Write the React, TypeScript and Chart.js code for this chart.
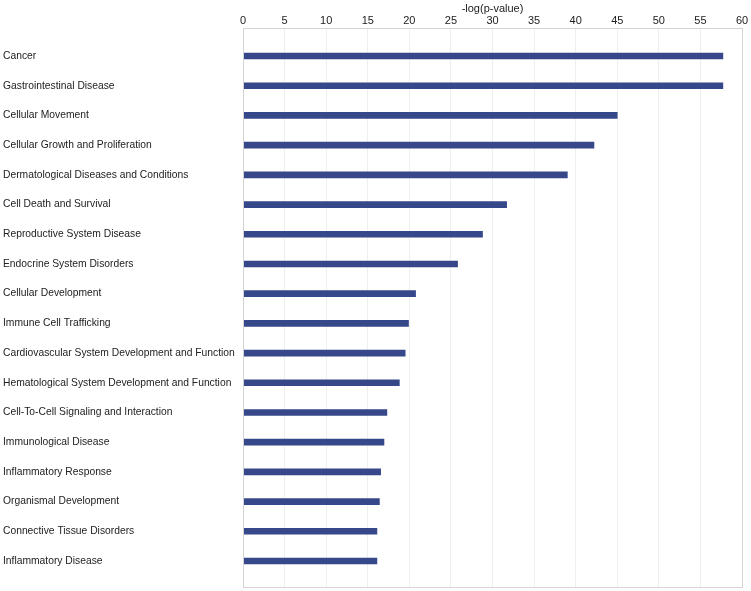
import React, { useEffect, useRef } from "react";
import { Chart, registerables } from "chart.js";

Chart.register(...registerables);

const categories = [
  "Cancer",
  "Gastrointestinal Disease",
  "Cellular Movement",
  "Cellular Growth and Proliferation",
  "Dermatological Diseases and Conditions",
  "Cell Death and Survival",
  "Reproductive System Disease",
  "Endocrine System Disorders",
  "Cellular Development",
  "Immune Cell Trafficking",
  "Cardiovascular System Development and Function",
  "Hematological System Development and Function",
  "Cell-To-Cell Signaling and Interaction",
  "Immunological Disease",
  "Inflammatory Response",
  "Organismal Development",
  "Connective Tissue Disorders",
  "Inflammatory Disease",
];

const values = [
  57.7, 57.7, 45.0, 42.2, 39.0, 31.7, 28.8, 25.8, 20.75, 19.9, 19.5, 18.8,
  17.3, 16.95, 16.55, 16.4, 16.1, 16.1,
];

const xTicks = [0, 5, 10, 15, 20, 25, 30, 35, 40, 45, 50, 55, 60];
const axisTitle = "-log(p-value)";

const FONT = "'Liberation Sans', Arial, sans-serif";

export default function App() {
  const ref = useRef<HTMLCanvasElement | null>(null);

  useEffect(() => {
    document.body.style.margin = "0";
    const canvas = ref.current;
    if (!canvas) return;

    const borderPlugin = {
      id: "areaBorder",
      afterDatasetsDraw(chart: any) {
        const { ctx, chartArea } = chart;
        ctx.save();
        ctx.strokeStyle = "#d4d4d4";
        ctx.lineWidth = 1;
        ctx.strokeRect(
          Math.round(chartArea.left) + 0.5,
          Math.round(chartArea.top) + 0.5,
          Math.round(chartArea.right - chartArea.left),
          Math.round(chartArea.bottom - chartArea.top)
        );
        ctx.restore();
      },
    };

    const chart = new Chart(canvas, {
      type: "bar",
      data: {
        datasets: [
          {
            data: values.map((v, i) => ({ x: v, y: i })),
            backgroundColor: "#36478a",
            borderWidth: 0,
            barThickness: 6,
          },
        ],
      },
      options: {
        indexAxis: "y",
        animation: false,
        responsive: false,
        maintainAspectRatio: false,
        layout: { padding: { left: 3, top: 1, right: 9, bottom: 4 } },
        plugins: {
          legend: { display: false },
          tooltip: { enabled: false },
        },
        scales: {
          x: {
            type: "linear",
            position: "top",
            min: 0,
            max: 60,
            bounds: "data",
            afterBuildTicks: (scale: any) => {
              scale.ticks = xTicks.map((v) => ({ value: v }));
            },
            ticks: {
              color: "#222",
              font: { family: FONT, size: 11 },
              padding: 0,
            },
            grid: {
              color: "#efefef",
              drawTicks: false,
            },
            border: { display: false },
            title: {
              display: true,
              text: axisTitle,
              color: "#222",
              font: { family: FONT, size: 11 },
              padding: { top: 1, bottom: 0 },
            },
            afterFit: (scale: any) => {
              scale.height = 27;
            },
          },
          y: {
            type: "linear",
            reverse: true,
            offset: false,
            min: -0.944,
            max: 17.876,
            bounds: "data",
            afterBuildTicks: (scale: any) => {
              scale.ticks = categories.map((_, i) => ({ value: i }));
            },
            ticks: {
              crossAlign: "far",
              color: "#222",
              font: { family: FONT, size: 10.3 },
              callback: (v: any) => categories[Number(v)] ?? "",
              autoSkip: false,
            },
            grid: { display: false, drawTicks: false, offset: false },
            border: { display: false },
            afterFit: (scale: any) => {
              scale.width = 240;
              scale.paddingTop = 0;
              scale.paddingBottom = 0;
            },
          },
        },
      },
      plugins: [borderPlugin],
    } as any);

    return () => chart.destroy();
  }, []);

  return (
    <div style={{ position: "fixed", left: 0, top: 0, width: 751, height: 591 }}>
      <canvas ref={ref} width={751} height={591} style={{ width: 751, height: 591 }} />
    </div>
  );
}
